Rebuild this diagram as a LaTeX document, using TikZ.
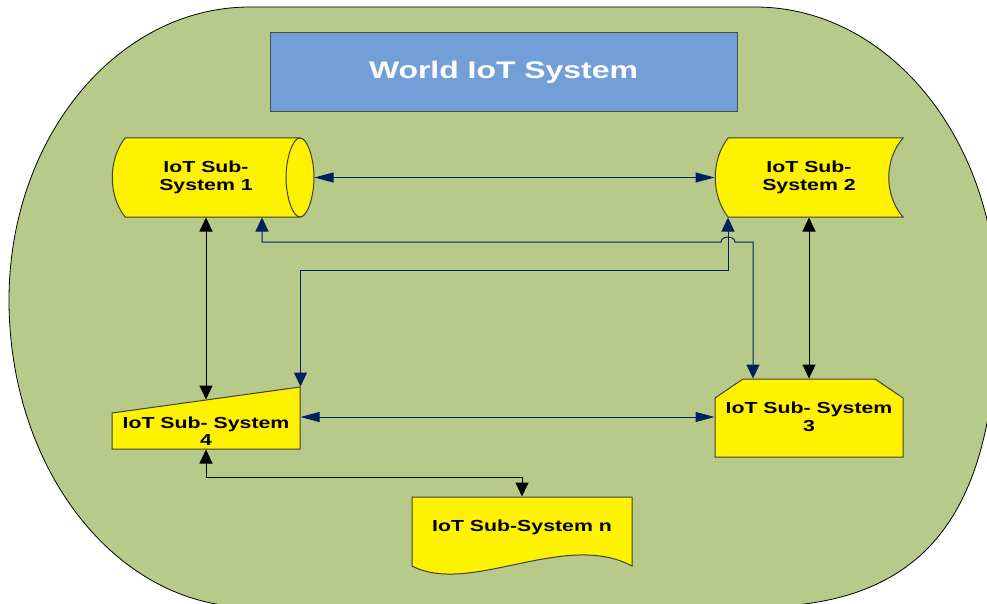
\documentclass[tikz,border=0pt]{standalone}
\usepackage{fontspec}
\usetikzlibrary{arrows.meta, calc}
\newfontfamily\diagfont{Liberation Sans}[FakeStretch=1.33]
\definecolor{worldgreen}{RGB}{183,202,138}
\definecolor{titleblue}{RGB}{114,159,216}
\definecolor{linknavy}{RGB}{0,32,96}
\definecolor{edgegray}{RGB}{64,64,48}

\begin{document}
\begin{tikzpicture}[x=1pt, y=-1pt, line width=1pt,
    subsys/.style={fill=yellow, draw=edgegray, line width=1pt},
    sublabel/.style={inner sep=0pt, align=center, minimum width=188pt,
      font=\diagfont\bfseries\fontsize{16}{17.5}\selectfont},
    hlink/.style={{Triangle[length=19pt,width=10pt]}-{Triangle[length=19pt,width=10pt]}},
    vlink/.style={{Triangle[length=14pt,width=13pt]}-{Triangle[length=14pt,width=13pt]}},
    navylink/.style={draw=linknavy}]
  \useasboundingbox (0,0) rectangle (987,604);
  \clip (0,0) rectangle (987,604);

  % the world system
  \path[fill=worldgreen, draw=black, line width=0.8pt]
    (9,300) .. controls (9,138) and (117,7) .. (250,7)
    -- (755,7) .. controls (889,7) and (997,140) .. (997,305)
    .. controls (997,516) and (924,607) .. (755,607)
    -- (250,607) .. controls (117,607) and (9,470) .. (9,300) -- cycle;
  \node[draw=black!70, fill=titleblue, minimum width=467pt, minimum height=79pt,
    text=white, font=\diagfont\bfseries\fontsize{24}{28}\selectfont]
    (world) at (503.5,72.5) {World IoT System};

  % sub-system shapes
  \path[subsys] (125,138) -- (300,138)
    .. controls (307.7,138) and (314,159.3) .. (314,177.5)
    .. controls (314,195.7) and (307.7,217) .. (300,217)
    -- (125,217) .. controls (108,195) and (108,160) .. (125,138) -- cycle;
  \draw[edgegray] (300,138) .. controls (292.3,138) and (286,159.3) .. (286,177.5)
    .. controls (286,195.7) and (292.3,217) .. (300,217);
  \path[subsys] (728,138) -- (903,138) .. controls (884,160) and (884,195) .. (903,217)
    -- (728,217) .. controls (711,195) and (711,160) .. (728,138) -- cycle;
  \path[subsys] (112,413) -- (300,387) -- (300,449) -- (112,449) -- cycle;
  \path[subsys] (715,457) -- (715,398) -- (743,379) -- (875,379) -- (903,398) -- (903,457) -- cycle;
  \path[subsys] (412,497) -- (632,497) -- (632,566)
    .. controls (565,530) and (470,596) .. (412,566) -- cycle;

  % labels
  \node[sublabel, minimum height=79pt] (sub1) at (206,177.5) {IoT Sub-\\System 1};
  \node[sublabel, minimum height=79pt] (sub2) at (809,177.5) {IoT Sub-\\System 2};
  \node[sublabel, minimum height=76pt] (sub3) at (809,417) {IoT Sub- System\\3};
  \node[sublabel, minimum height=36pt] (sub4) at (206,431) {IoT Sub- System\\4};
  \node[sublabel, minimum width=220pt, minimum height=60pt] (subn) at (522,527) {IoT Sub-System n};

  % links
  \draw[navylink, hlink] ([xshift=14pt]sub1.east) -- (sub2.west);
  \draw[navylink, hlink] (sub3.west -| sub4.east) -- (sub3.west);
  \draw[vlink] (sub1.south) -- ([yshift=13pt]sub4.north);
  \draw[vlink] (sub2.south) -- (sub3.north);
  \draw[vlink] (sub4.south) -- ++(0,28) -| (subn.north);
  \draw[navylink, vlink] ([xshift=-81pt]sub2.south) -- ++(0,53) -| ([yshift=26pt]sub4.north east);
  \draw[navylink, vlink] ([xshift=56pt]sub1.south) |- (721,242)
    .. controls (721,235.5) and (735,235.5) .. (735,242) -| ([xshift=-56pt]sub3.north);
\end{tikzpicture}
\end{document}
